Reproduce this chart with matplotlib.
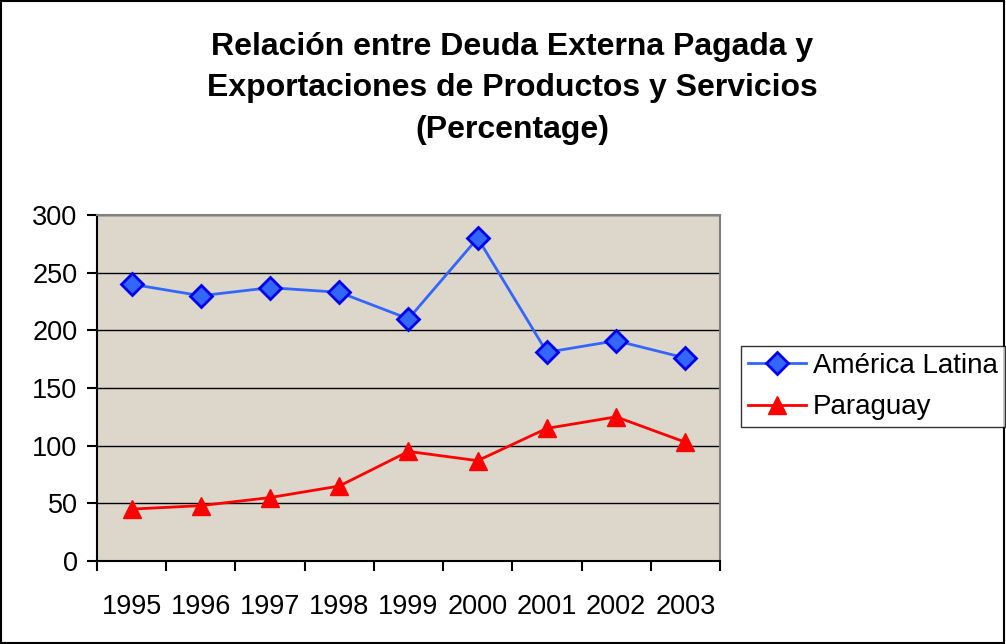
import matplotlib.pyplot as plt
import numpy as np
from matplotlib.patches import Rectangle

years = ["1995", "1996", "1997", "1998", "1999", "2000", "2001", "2002", "2003"]
america_latina = [240, 230, 237, 233, 210, 280, 181, 191, 176]
paraguay = [45, 48, 55, 65, 95, 87, 115, 125, 103]

plt.rcParams["font.family"] = ["Liberation Sans", "DejaVu Sans"]

fig = plt.figure(figsize=(10.06, 6.44), dpi=100)
ax = fig.add_axes([0.0964, 0.1289, 0.6193, 0.5372])
ax.set_facecolor("#ddd6ca")

x = np.arange(len(years)) + 0.5
ax.plot(x, america_latina, color="#3366ff", lw=2, marker="D", ms=11.5,
        mfc="#3366ff", mec="#0000ee", mew=2, label="América Latina", zorder=3)
ax.plot(x, paraguay, color="#ff0000", lw=2, marker="^", ms=13,
        mfc="#ff0000", mec="#ff0000", label="Paraguay", zorder=3)

ax.set_xlim(0, len(years))
ax.set_ylim(0, 300)
ax.set_yticks(range(0, 301, 50))
ax.set_xticks(np.arange(len(years) + 1))
ax.set_xticklabels([])
ax.set_xticks(x, minor=True)
ax.set_xticklabels(years, minor=True)
ax.tick_params(axis="x", which="major", direction="out", length=7, width=1.5)
ax.tick_params(axis="x", which="minor", length=0, pad=24, labelsize=19.5)
ax.tick_params(axis="y", direction="out", length=7, width=1.5, labelsize=19.5, pad=7)
ax.yaxis.grid(True, color="black", lw=1)
ax.set_axisbelow(True)
for s in ["top", "right"]:
    ax.spines[s].set_color("#808080")
    ax.spines[s].set_linewidth(1.5)
for s in ["left", "bottom"]:
    ax.spines[s].set_linewidth(1.5)

fig.text(0.509, 0.863, "Relación entre Deuda Externa Pagada y\nExportaciones de Productos y Servicios\n(Percentage)",
         ha="center", va="center", fontsize=23, fontweight="bold", linespacing=1.5)

leg = fig.legend(loc="upper left", bbox_to_anchor=(0.7366, 0.4627), fontsize=20,
                 frameon=True, fancybox=False, edgecolor="black", handlelength=2.1,
                 borderpad=0.25, labelspacing=0.55, handletextpad=0.25, borderaxespad=0)
leg.get_frame().set_linewidth(1)

fig.patches.append(Rectangle((0.001, 0.001), 0.997, 0.997, transform=fig.transFigure,
                             fill=False, edgecolor="black", lw=1.5))

fig.savefig("out.png", dpi=100)
